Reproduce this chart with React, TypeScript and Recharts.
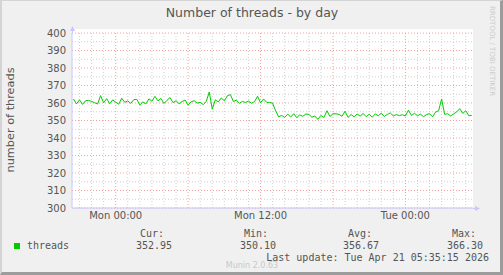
import { LineChart, Line, XAxis, YAxis, CartesianGrid } from 'recharts'

// 15 minute averages, starting Sun 20:30 (hours relative to Mon 00:00)
const startHour = -3.5
const stepHours = 0.25

const threads = [
    362.3, 359.5, 361.8, 359.2, 361.3, 361.5, 360.9, 360.2, 359.4, 364.2,
    360.1, 362.5, 359.6, 361.8, 360.5, 359.3, 362.7, 360.4, 361.2, 359.8,
    361.9, 362.1, 358.9, 360.6, 359.5, 362.4, 361.0, 363.8, 361.2, 362.6,
    359.7, 361.5, 363.1, 360.2, 361.3, 359.6, 360.8, 361.7, 358.8, 360.7,
    361.3, 359.9, 360.4, 359.1, 360.8, 366.3, 356.5, 361.8, 360.6, 362.9,
    361.2, 364.1, 364.8, 360.9, 361.6, 359.8, 360.9, 360.3, 361.1, 359.9,
    360.7, 363.9, 360.1, 362.3, 360.4, 360.3, 359.9, 355.5, 352.1, 352.9,
    351.8, 353.6, 352.0, 353.9, 351.6, 353.2, 352.4, 353.7, 353.5, 351.9,
    352.6, 350.6, 352.9, 351.7, 355.6, 352.3, 353.9, 353.8, 353.5, 352.4,
    355.3, 351.8, 353.4, 352.1, 353.7, 352.5, 354.0, 352.2, 353.6, 351.9,
    353.8, 352.7, 354.2, 352.3, 353.5, 354.3, 352.6, 353.4, 352.8, 353.3,
    352.6, 355.9, 352.9, 354.1, 352.7, 353.6, 352.2, 353.4, 353.9, 352.1,
    354.8, 355.6, 362.3, 353.5, 353.9, 352.6, 353.8, 354.9, 356.8, 354.0,
    355.6, 352.7, 352.95,
]

const yTicks = [300, 310, 320, 330, 340, 350, 360, 370, 380, 390, 400]
const yMinor = [305, 315, 325, 335, 345, 355, 365, 375, 385, 395]
const xTicks = [0, 12, 24]
const xTickLabels = ['Mon 00:00', 'Mon 12:00', 'Tue 00:00']
const xMajor = [0, 6, 12, 18, 24]
const xMinor = [-3, -2, -1, 1, 2, 3, 4, 5, 7, 8, 9, 10, 11, 13, 14, 15, 16, 17, 19, 20, 21, 22, 23, 25, 26, 27, 28, 29]

const legendName = 'threads'
const legendCur = '352.95'
const legendMin = '350.10'
const legendAvg = '356.67'
const legendMax = '366.30'

const data = threads.map((v, i) => ({ t: startHour + i * stepHours, threads: v }))

const sans = '"DejaVu Sans", sans-serif'
const mono = '"DejaVu Sans Mono", monospace'
const textColor = '#555555'

export default function App() {
    return (
        <div
            style={{
                position: 'absolute',
                left: 0,
                top: 0,
                width: 503,
                height: 275,
                boxSizing: 'border-box',
                background: '#f0f0f0',
                borderLeft: '2px solid #d4d4d4',
                borderTop: '1px solid #d4d4d4',
                borderRight: '3px solid #9c9c9c',
                borderBottom: '3px solid #9c9c9c',
                overflow: 'hidden',
            }}
        >
            <div style={{ position: 'absolute', left: 70, top: 28, width: 401, height: 179, background: '#ffffff' }} />
            <div style={{ position: 'absolute', left: -2, top: -1 }}>
                <LineChart width={503} height={275} data={data} margin={{ top: 33, right: 30, bottom: 47, left: 0 }}>
                    <CartesianGrid
                        horizontalValues={yMinor}
                        verticalValues={xMinor}
                        stroke="#d0d0d0"
                        strokeDasharray="1 2"
                    />
                    <CartesianGrid
                        horizontalValues={yTicks}
                        verticalValues={xMajor}
                        stroke="#f3a0a0"
                        strokeDasharray="1 2"
                    />
                    <XAxis
                        dataKey="t"
                        type="number"
                        domain={[-3.62, 29.6]}
                        allowDataOverflow
                        ticks={xTicks}
                        tickFormatter={(v: number) => xTickLabels[xTicks.indexOf(v)]}
                        height={20}
                        tickSize={0}
                        tickMargin={4}
                        axisLine={{ stroke: '#c8c8ff' }}
                        tick={{ fill: textColor, fontSize: 10, fontFamily: sans }}
                    />
                    <YAxis
                        type="number"
                        domain={[300, 400]}
                        ticks={yTicks}
                        interval={0}
                        width={72}
                        tickSize={0}
                        tickMargin={6}
                        axisLine={{ stroke: '#c8c8ff' }}
                        tick={{ fill: textColor, fontSize: 10, fontFamily: sans }}
                    />
                    <Line
                        dataKey="threads"
                        stroke="#00cc00"
                        strokeWidth={1}
                        dot={false}
                        isAnimationActive={false}
                    />
                </LineChart>
            </div>
            <svg width={503} height={275} style={{ position: 'absolute', left: -2, top: -1 }}>
                <line x1={72.5} y1={33} x2={72.5} y2={29} stroke="#c8c8ff" />
                <polygon points="70,31 75,31 72.5,26" fill="#c8c8ff" />
                <line x1={473} y1={208.5} x2={476} y2={208.5} stroke="#c8c8ff" />
                <polygon points="475,206 475,211 480,208.5" fill="#c8c8ff" />
                <text x={252} y={17} textAnchor="middle" fontFamily={sans} fontSize={12.5} fill={textColor}>
                    Number of threads - by day
                </text>
                <text
                    transform="translate(14,120) rotate(-90)"
                    textAnchor="middle"
                    fontFamily={sans}
                    fontSize={11.3}
                    fill={textColor}
                >
                    number of threads
                </text>
                <text
                    transform="translate(490,6) rotate(90)"
                    fontFamily={sans}
                    fontSize={7}
                    fill="#cccccc"
                >
                    RRDTOOL / TOBI OETIKER
                </text>
                <rect x={14} y={243} width={6} height={6} fill="#00cc00" />
                <g fontFamily={mono} fontSize={10} fill={textColor}>
                    <text x={27} y={249}>{legendName}</text>
                    <text x={164} y={237} textAnchor="end">Cur:</text>
                    <text x={268} y={237} textAnchor="end">Min:</text>
                    <text x={372} y={237} textAnchor="end">Avg:</text>
                    <text x={476} y={237} textAnchor="end">Max:</text>
                    <text x={172} y={249} textAnchor="end">{legendCur}</text>
                    <text x={276} y={249} textAnchor="end">{legendMin}</text>
                    <text x={379} y={249} textAnchor="end">{legendAvg}</text>
                    <text x={483} y={249} textAnchor="end">{legendMax}</text>
                    <text x={489} y={261} textAnchor="end">Last update: Tue Apr 21 05:35:15 2026</text>
                </g>
                <text x={252} y={268} textAnchor="middle" fontFamily={sans} fontSize={8} fill="#c8c8c8">
                    Munin 2.0.63
                </text>
            </svg>
        </div>
    )
}
